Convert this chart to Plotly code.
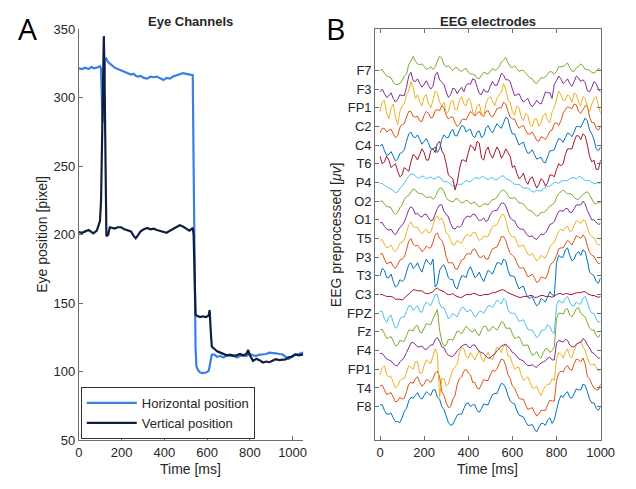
import plotly.graph_objects as go

# ---------------- Eye channels data ----------------
eye_time_ms = [0, 15, 30, 46, 60, 68, 84, 99, 104, 107, 111, 114, 117, 120, 122, 126, 129, 137, 145, 158,
               167, 182, 198, 213, 228, 244, 257, 266, 278, 289, 304, 320, 335, 350, 365, 380, 396, 411, 426,
               441, 457, 472, 487, 502, 517, 525, 533, 537, 541, 546, 550, 558, 568, 580, 595, 607, 612, 617,
               622, 632, 647, 662, 677, 692, 708, 723, 738, 754, 769, 784, 792, 800, 815, 830, 845, 861, 876,
               891, 906, 921, 937, 952, 967, 982, 998, 1013, 1028, 1050]
horizontal_pos = [321.5, 321, 322, 321, 322.5, 321.5, 322, 323, 321, 300, 282, 290, 310, 325, 329, 328, 328.5,
                  326, 325, 323, 322, 321, 320, 319.5, 318, 317, 317.5, 316, 315.5, 316, 314.5, 314, 315.5, 315,
                  315.5, 314, 313, 314.5, 314, 315.5, 316.5, 317, 318, 317.5, 317, 317, 316.5, 250, 180, 118,
                  104, 101, 99.5, 99, 99.5, 100.5, 104, 110, 112.5, 112.7, 111, 111.5, 110.5, 112, 111.6, 112,
                  110.5, 111.5, 112, 111.5, 112.7, 113, 112, 111.6, 112.5, 112.7, 113, 114, 114, 113.5, 113,
                  112.7, 111, 109.5, 111.5, 112.7, 113, 114]
vertical_pos = [202, 201.5, 202.5, 203.5, 202, 201, 203, 210, 225, 250, 290, 335, 345, 320, 282, 230, 199, 200,
                205.5, 205, 204.5, 205.5, 205.5, 204, 203, 202.5, 199, 197.5, 200, 202.5, 204, 205, 204, 204.5,
                203.5, 203, 202, 201.5, 203, 204.5, 205.5, 207, 206, 204.5, 203, 204, 205, 200, 165, 142, 141,
                140.5, 140, 140.5, 140, 141, 145, 130, 118.5, 117, 115, 114, 112.7, 112, 112.5, 111.6, 112, 113,
                112, 113, 116, 112, 108, 109.5, 108.5, 106.8, 107.5, 107, 108, 109.2, 108.5, 108.5, 109, 110.5,
                111, 112.7, 112, 112.7]

# ---------------- EEG data (uV) ----------------
# samples at 0, 20, ..., 1000 ms ("_a") and at 10, 30, ..., 990 ms ("_b")
eeg_time_ms = list(range(0, 1001, 10))
# channel names, bottom to top
eeg_channels = ["F8", "T4", "FP1", "F4", "Fz", "FPZ", "C3", "T3", "P3", "T5",
                "O1", "O2", "P4", "T6", "C4", "C2", "FP1", "F3", "F7"]

F8_a = [2, -4, -8, -12, -16, -12, -2, 10, 12, 10, 12, 14, 18, 10, 0, -10, -20, -14, -8, -2, 4, 2, -4, -2, 2, 8,
        14, 20, 24, 12, 4, -4, -10, -16, -20, -24, -22, -18, -14, -18, -4, 12, 14, 10, 14, 18, 24, 16, 4, -2, 0]
F8_b = [2, -8, -7, -16, -17, -5, 6, 9, 15, 8, 16, 12, 18, 8, -3, -17, -19, -9, -8, 3, 0, 2, -6, 3, 2, 13, 14, 25,
        20, 6, 3, -9, -11, -20, -19, -27, -18, -20, -12, -14, 6, 10, 16, 9, 19, 18, 23, 8, 4, -4]
T4_a = [2, -2, -6, -10, -14, -12, -4, 6, 10, 6, 4, 8, 10, 18, -4, -16, -20, -8, 10, 18, 16, 6, 0, 4, 8, 14, 18,
        26, 30, 14, 2, -6, -12, -18, -22, -26, -28, -24, -18, -14, 8, 18, 22, 20, 26, 30, 32, 12, 4, -2, 4]
T4_b = [3, -7, -5, -15, -10, -11, 4, 5, 12, 2, 9, 6, 16, 12, -8, -21, -12, 4, 12, 20, 14, 6, -1, 9, 8, 19, 20, 31,
        24, 10, 0, -11, -12, -23, -21, -30, -24, -24, -13, -14, 16, 17, 24, 19, 31, 28, 26, 10, 0, -2]
FP1_low_a = [-6, 4, -8, -14, -18, -10, -4, 2, 8, -4, 4, 8, 14, 16, -10, -18, -8, 2, 18, 22, 12, 14, 16, 12, 14,
             12, 18, 22, 25, 14, 6, 2, -6, -10, -14, -20, -24, -22, -16, -10, 10, 16, 18, 14, 20, 28, 24, 12, 4, 2, 0]
FP1_low_b = [2, -6, -8, -20, -12, -10, 4, 0, 8, -4, 10, 6, 22, -30, -10, -16, 0, 6, 24, 14, 18, 10, 20, 8, 18, 10,
             24, 18, 26, 14, 0, 2, -12, -8, -20, -18, -28, -18, -16, -12, 18, 12, 22, 12, 26, 30, 20, 6, 6, -2]
F4_a = [-3, -6, -10, -14, -16, -10, -2, 8, 6, 4, 2, 4, 6, 14, 4, -2, -6, -4, 2, 6, 4, 6, 2, -2, -6, -8, -4, 2, 6,
        4, -2, -6, -10, -14, -16, -17, -15, -12, -8, -10, 8, 10, 12, 6, 4, 8, 13, 6, -2, -6, -8]
F4_b = [-3, -9, -11, -16, -12, -7, 4, 9, 4, 5, 1, 6, 12, 10, 3, -5, -6, 0, 5, 7, 3, 6, -1, -3, -8, -5, 0, 5, 7, 2,
        -3, -9, -11, -16, -15, -18, -13, -11, -7, -10, 11, 9, 11, 4, 7, 9, 11, 3, -3, -8]
Fz_a = [2, -2, -6, -10, -14, -10, -4, 2, 6, 0, 4, 8, 14, 24, -10, -14, -8, -4, 0, 2, 4, 0, -2, 2, 6, 2, 4, 6, 10,
        4, -2, -6, -10, -14, -20, -24, -26, -22, -18, -20, 14, 20, 24, 18, 20, 26, 18, 10, 2, -4, -2]
Fz_b = [3, -7, -5, -15, -9, -10, 2, 1, 7, -1, 9, 8, 20, 2, -15, -8, -9, 1, -2, 6, 1, 3, -4, 6, 1, 6, 2, 11, 4, 4,
        -7, -5, -15, -14, -25, -21, -28, -18, -22, -16, 20, 19, 25, 16, 25, 20, 16, 4, 2, -6]
FPZ_a = [2, -6, -4, -10, -14, -4, 2, 8, 6, 2, 8, 10, 14, 20, 6, 0, -4, -2, 2, 6, 2, 0, -2, 2, 4, 8, 10, 12, 16, 4,
         0, -4, -8, -12, -18, -22, -24, -18, -12, -20, 8, 12, 16, 12, 8, 10, 16, 12, 0, -6, -8]
FPZ_b = [2, -10, -2, -16, -6, -4, 8, 3, 8, 1, 12, 8, 20, 10, 6, -6, 0, -4, 6, 2, 4, -4, 2, 0, 8, 6, 14, 10, 14, 0,
         0, -9, -7, -17, -18, -26, -19, -17, -14, -22, 14, 11, 18, 8, 12, 10, 18, 4, 0, -10]
C3_a = [0, -1, -2, -3, -5, -6, -2, 3, 5, 4, 2, 1, 3, 7, 4, 1, 0, -1, -3, -1, 0, 1, 0, -1, 0, 1, 2, 4, 5, 2, 0, -2,
        -3, -2, -1, -3, -2, -1, -2, -3, 0, 1, 1, 0, 1, 2, 3, 1, -1, -2, -2]
C3_b = [0, -2, -2, -5, -5, -4, 1, 5, 4, 4, 1, 2, 6, 5, 3, 0, 1, -2, -3, 0, 0, 1, -1, 0, 0, 2, 3, 5, 3, 1, -1, -3,
        -2, -2, -1, -3, -1, -2, -2, -1, 1, 0, 1, 0, 2, 2, 3, 0, -1, -3]
T3_a = [0, 6, -2, -6, -10, -6, 4, 14, 10, 8, 12, 14, 18, -8, 10, 6, -4, -12, -6, 0, 6, 4, 0, -2, 0, 4, 8, 14, 18,
        6, 0, -8, -12, -18, -24, -28, -30, -26, -22, -20, 14, 20, 28, 22, 18, 26, 28, 16, 2, -6, -2]
T3_b = [8, -2, 2, -12, -4, -4, 12, 8, 14, 4, 18, 12, -12, 6, 12, -2, -4, -14, 0, -2, 10, -2, 4, -6, 6, 2, 14, 12,
        16, 0, -1, -14, -11, -23, -22, -32, -24, -28, -17, -22, 22, 20, 30, 16, 24, 22, 26, 4, 0, -8]
P3_a = [3, -2, -6, -10, -8, -2, 8, 20, 12, 10, 8, 10, 16, 26, 18, 0, -6, -12, -8, -2, 4, 8, 4, 0, -2, 4, 10, 16,
        22, 10, 2, -6, -12, -16, -20, -22, -26, -22, -18, -6, 2, 10, 14, 16, 18, 22, 24, 12, 2, -4, -6]
P3_b = [4, -7, -5, -12, -3, 0, 17, 14, 13, 6, 12, 10, 24, 20, 12, -6, -6, -13, -3, 3, 3, 9, 0, 2, -2, 9, 11, 22, 18,
        4, 0, -11, -11, -21, -18, -27, -21, -23, -9, -4, 9, 10, 18, 13, 23, 20, 21, 5, 1, -7]
T5_a = [-2, -6, -9, -12, -10, -4, 6, 18, 12, 8, 8, 6, 14, 24, 22, 6, -2, -6, -4, 0, 4, 6, 2, -1, 2, 8, 14, 20, 26,
        10, 2, -4, -8, -12, -18, -20, -22, -20, -16, -6, 2, 10, 12, 8, 14, 18, 20, 12, 2, -4, -6]
T5_b = [-1, -10, -7, -14, -5, -1, 15, 13, 12, 5, 10, 7, 22, 20, 16, 4, -7, -2, -5, 4, 2, 7, -2, 3, 2, 13, 15, 25,
        20, 4, 2, -9, -7, -17, -16, -24, -18, -21, -9, -4, 8, 8, 13, 8, 19, 16, 19, 5, 1, -7]
O1_a = [-3, -7, -11, -14, -12, -6, 4, 14, 6, 4, 6, 2, 0, 12, 16, 6, -4, -10, -8, 0, 4, 6, 2, 0, -2, 6, 10, 14, 18,
        8, 0, -6, -10, -14, -18, -20, -18, -16, -10, -4, 4, 10, 12, 8, 12, 16, 20, 10, 0, -3, -4]
O1_b = [-3, -10, -10, -16, -8, -2, 11, 12, 7, 3, 6, -1, 7, 16, 9, 3, -9, -7, -6, 3, 3, 6, -1, 2, 0, 9, 10, 18, 15,
        2, -1, -9, -10, -17, -17, -21, -15, -14, -5, -2, 9, 9, 12, 8, 16, 16, 17, 4, 0, -5]
O2_a = [0, -3, -6, -12, -12, -4, 5, 10, 12, 8, 6, 4, 2, 10, 14, 4, 0, 2, 0, -1, 0, -2, -4, -5, -3, -1, 2, 8, 12,
        6, 3, 1, -2, -6, -10, -14, -15, -12, -8, -4, 4, 10, 10, 8, 4, 2, 7, 10, 2, -3, -2]
O2_b = [0, -6, -7, -14, -7, 2, 6, 13, 9, 8, 4, 5, 4, 14, 10, 1, -1, 3, -2, 1, -3, -1, -6, -3, -4, 2, 4, 11, 10, 3,
        4, -2, -3, -9, -11, -16, -12, -11, -5, -2, 8, 12, 8, 7, 2, 5, 9, 7, -2, -1]
P4_a = [-1, -3, -6, -9, -10, -4, 3, 9, 7, 5, 6, 5, 4, 6, 3, 1, -2, -4, -2, 0, 1, 3, 5, 6, 4, 5, 3, 5, 7, 3, 0, -2,
        -4, -6, -8, -10, -9, -7, -4, -2, 0, 1, 2, 4, 5, 6, 4, 2, 0, -1, -2]
P4_b = [-1, -5, -7, -11, -6, -1, 7, 9, 5, 7, 4, 6, 4, 6, 1, 0, -4, -2, -2, 2, 1, 5, 4, 6, 3, 5, 3, 7, 4, 2, -2, -2,
        -6, -6, -10, -8, -9, -5, -4, 0, -1, 2, 2, 5, 4, 6, 2, 2, -1, 0]
T6_a = [8, 2, 4, -2, -8, -12, -6, 2, 8, 10, 12, 4, 16, 22, 14, 0, -14, -28, -6, 4, 12, 18, 24, 6, 14, 10, 12, 14,
        10, 12, -4, -10, -14, -18, -16, -20, -22, -18, -20, -12, -6, -2, 10, 16, 24, 30, 32, 20, 2, -6, 4]
T6_b = [0, 8, -4, 0, -14, -4, -8, 10, 4, 16, 4, 14, 12, 24, 10, -12, -16, -20, 4, 2, 20, 14, 22, 4, 18, 6, 18, 6,
        16, 8, -2, -16, -10, -22, -14, -26, -16, -24, -12, -14, 0, 0, 16, 16, 30, 26, 30, 8, 4, -6]
C4_a = [-1, -6, -10, -12, -15, -8, 4, 14, 8, 6, 4, 2, -4, -8, 6, 8, 14, 10, 16, 20, 16, 10, 14, 8, 18, 16, 18, 20,
        24, 28, 12, 6, 2, -4, -8, -10, -14, -18, -12, -6, 2, 6, 8, 12, 14, 20, 24, 26, 12, -4, -2]
C4_b = [1, -11, -7, -17, -9, -5, 12, 9, 11, 1, 7, -4, -2, -4, 11, 8, 17, 10, 21, 14, 17, 8, 15, 10, 21, 13, 23, 18,
        30, 18, 12, 0, 3, -9, -5, -15, -13, -19, -6, -5, 7, 3, 13, 9, 20, 19, 29, 16, 6, -6]
C2_a = [-7, -2, -4, -8, -10, 2, 10, 16, 10, 6, 12, 14, 10, 18, 22, 12, 10, 4, 2, 8, 12, 14, 14, 12, 16, 12, 14, 20,
        26, 16, 8, 2, 0, -4, -8, -10, -16, -12, -10, -4, 4, 6, 18, 20, 24, 16, 18, 22, 4, -2, 0]
C2_b = [-2, -6, -3, -12, -1, 3, 16, 11, 11, 5, 16, 9, 17, 17, 20, 8, 10, 0, 7, 7, 16, 11, 16, 11, 17, 10, 19, 20,
        24, 10, 8, -2, 1, -8, -6, -15, -11, -14, -5, 3, 1, 14, 21, 19, 23, 14, 22, 10, 4, -4]
FP1_up_a = [-4, 8, -12, 4, -18, 2, 14, 28, 10, 6, 12, 4, 8, 16, 2, -6, 6, -2, 8, 4, 10, -4, 2, -6, 4, 12, 2, 14,
            26, 8, -4, 2, -10, -6, -18, -12, -20, -8, -14, -4, 10, 14, 8, 12, 16, 6, 12, 0, 4, 12, -6]
FP1_up_b = [6, -6, 0, -10, -4, 4, 18, 22, 14, 2, 14, 0, 18, 6, 6, -4, 8, -2, 12, 2, 8, -8, 4, -10, 10, 6, 10, 16,
            20, 6, -8, 0, -14, -8, -20, -12, -16, -6, -16, 0, 18, 8, 14, 6, 14, 2, 10, -4, 10, 2]
F3_a = [-3, -5, -7, -10, -11, -7, 2, 18, 8, 6, 5, 4, 3, 18, 7, -3, -6, 0, -1, -3, 6, 11, 2, -6, -3, 3, 4, 10, 15,
        10, 0, -6, -10, -12, -16, -16, -15, -10, -4, -10, 9, 11, 8, 6, 8, 12, 10, -2, 2, 6, -3]
F3_b = [0, -9, -4, -14, -6, -7, 14, 9, 11, 2, 9, 0, 15, 10, 5, -9, 1, -5, 2, 4, 5, 10, -5, 0, -3, 8, 4, 17, 10, 8,
        -7, -5, -14, -10, -19, -12, -16, -3, -4, 5, 14, 6, 11, 3, 14, 8, 7, -3, 8, 0]
F7_a = [0, -3, -7, -13, -15, -11, -4, 10, 10, 6, 4, 2, 1, 10, 13, 4, 2, 3, 0, 1, -2, -4, -8, -5, -3, -1, 0, 4, 11,
        8, 3, 2, 0, -3, -8, -13, -11, -8, -4, -2, -1, 4, 6, 3, -1, 4, 5, 1, -2, -1, 1]
F7_b = [1, -6, -8, -15, -14, -6, 6, 15, 7, 7, 1, 4, 4, 15, 6, 5, 0, 3, -1, 2, -4, -5, -9, -2, -4, 2, 1, 9, 14, 4,
        5, -1, 0, -6, -9, -14, -8, -7, -1, -4, 4, 4, 8, -1, 3, 7, 1, 0, -3, 2]

eeg_pairs = [(F8_a, F8_b), (T4_a, T4_b), (FP1_low_a, FP1_low_b), (F4_a, F4_b), (Fz_a, Fz_b), (FPZ_a, FPZ_b),
             (C3_a, C3_b), (T3_a, T3_b), (P3_a, P3_b), (T5_a, T5_b), (O1_a, O1_b), (O2_a, O2_b), (P4_a, P4_b),
             (T6_a, T6_b), (C4_a, C4_b), (C2_a, C2_b), (FP1_up_a, FP1_up_b), (F3_a, F3_b), (F7_a, F7_b)]
matlab_colors = ["#0072BD", "#D95319", "#EDB120", "#7E2F8E", "#77AC30", "#4DBEEE", "#A2142F"]
CHANNEL_SPACING = 20


def merge(a, b):
    out = []
    for k in range(len(b)):
        out += [a[k], b[k]]
    out.append(a[-1])
    return out


FONT = "Liberation Sans, Arial, sans-serif"
TXT = "#262626"
AX = "#6e6e6e"

fig = go.Figure()

fig.add_trace(go.Scatter(x=eye_time_ms, y=horizontal_pos, mode="lines", name="Horizontal position",
                         line=dict(color="#3b7fe4", width=2.2), xaxis="x", yaxis="y"))
fig.add_trace(go.Scatter(x=eye_time_ms, y=vertical_pos, mode="lines", name="Vertical position",
                         line=dict(color="#0f1f3f", width=2.2), xaxis="x", yaxis="y"))

for i, (name, (a, b)) in enumerate(zip(eeg_channels, eeg_pairs)):
    off = i * CHANNEL_SPACING
    sig = merge(a, b)
    fig.add_trace(go.Scatter(x=eeg_time_ms, y=[v + off for v in sig], mode="lines", name=name,
                             showlegend=False, line=dict(color=matlab_colors[i % 7], width=1.0),
                             xaxis="x2", yaxis="y2"))

axis_common = dict(showgrid=False, zeroline=False, showline=True, linecolor=AX, linewidth=1,
                   ticks="inside", ticklen=4, tickcolor=AX,
                   tickfont=dict(family=FONT, size=13, color=TXT))

fig.update_layout(
    width=636, height=489,
    margin=dict(l=0, r=0, t=0, b=0),
    paper_bgcolor="white", plot_bgcolor="white",
    font=dict(family=FONT, color=TXT),
    xaxis=dict(domain=[77 / 636, 308 / 636], range=[0, 1050], tickvals=[0, 200, 400, 600, 800, 1000],
               anchor="y", **axis_common),
    yaxis=dict(domain=[1 - 447 / 489, 1 - 23 / 489], range=[50, 350], tickvals=[50, 100, 150, 200, 250, 300, 350],
               anchor="x", **axis_common),
    xaxis2=dict(domain=[382 / 636, 614 / 636], range=[-22, 1000], tickvals=[0, 200, 400, 600, 800, 1000],
                anchor="y2", mirror="ticks", **axis_common),
    yaxis2=dict(domain=[1 - 447 / 489, 1 - 23 / 489],
                range=[-1.8 * CHANNEL_SPACING, 20.2 * CHANNEL_SPACING],
                tickvals=[i * CHANNEL_SPACING for i in range(len(eeg_channels))],
                ticktext=eeg_channels, anchor="x2", mirror="ticks", **axis_common),
    showlegend=True,
    legend=dict(x=79 / 636, y=1 - 392 / 489, xanchor="left", yanchor="top",
                bgcolor="white", bordercolor="#333333", borderwidth=1, itemwidth=50,
                font=dict(family=FONT, size=13, color=TXT), tracegroupgap=0),
)

ann = [
    dict(text="A", x=24 / 636, y=1 - 22 / 489, font=dict(family="Open Sans, sans-serif", size=30, color="black")),
    dict(text="B", x=341 / 636, y=1 - 22 / 489, font=dict(family="Open Sans, sans-serif", size=30, color="black")),
    dict(text="<b>Eye Channels</b>", x=192 / 636, y=1 - 15 / 489, font=dict(family=FONT, size=13, color=TXT)),
    dict(text="<b>EEG electrodes</b>", x=498 / 636, y=1 - 15 / 489, font=dict(family=FONT, size=13, color=TXT)),
    dict(text="Time [ms]", x=192 / 636, y=1 - 477 / 489, font=dict(family=FONT, size=14, color=TXT)),
    dict(text="Time [ms]", x=498 / 636, y=1 - 477 / 489, font=dict(family=FONT, size=14, color=TXT)),
    dict(text="Eye position [pixel]", x=39 / 636, y=1 - 234 / 489, textangle=-90,
         font=dict(family=FONT, size=14, color=TXT)),
    dict(text="EEG preprocessed [<i>μv</i>]", x=341 / 636, y=1 - 235 / 489, textangle=-90,
         font=dict(family=FONT, size=14, color=TXT)),
]
for a in ann:
    a.update(xref="paper", yref="paper", showarrow=False, xanchor="center", yanchor="middle")
fig.update_layout(annotations=ann)

fig.write_html("out.html", config={"displayModeBar": False},
               post_script="document.body.style.margin='0px';document.body.style.overflow='hidden';")
